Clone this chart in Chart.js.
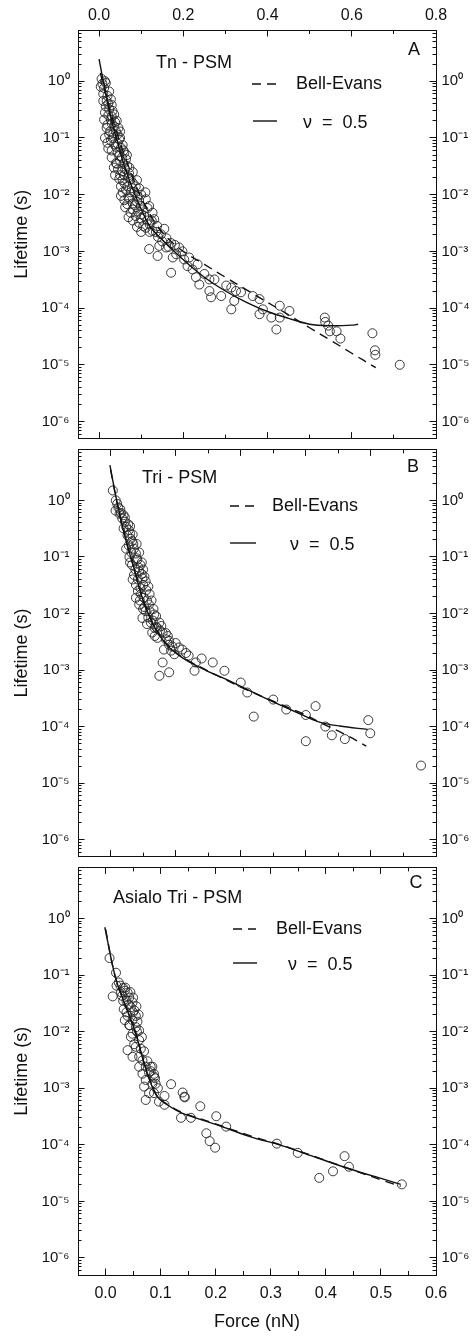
<!DOCTYPE html>
<html><head><meta charset="utf-8">
<script src="https://cdn.jsdelivr.net/npm/chart.js@4.4.1/dist/chart.umd.min.js"></script>
<style>
html,body{margin:0;padding:0;background:#fff;}
body{width:472px;height:1336px;position:relative;overflow:hidden;}
.p{position:absolute;left:0;width:472px;}
canvas{display:block;}
</style>
</head><body>
<div class="p" style="top:0;height:444px"><canvas id="cA" width="472" height="444"></canvas></div>
<div class="p" style="top:444px;height:418px"><canvas id="cB" width="472" height="418"></canvas></div>
<div class="p" style="top:862px;height:474px"><canvas id="cC" width="472" height="474"></canvas></div>
<script>
// ---------------- data ----------------
// Panel A : Tn - PSM
const aForce = [0.006,0.016,0.012,0.024,0.020,0.028,0.016,0.024,0.036,0.012,0.028,0.036,0.040,0.024,0.044,0.048,0.020,0.036,0.052,0.060,0.048,0.064,0.040,0.067,0.055,0.071,0.048,0.060,0.075,0.067,0.087,0.095,0.052,0.075,0.091,0.111,0.067,0.099,0.119,0.075,0.087,0.107,0.127,0.131,0.095,0.111,0.127,0.147,
 0.008,0.010,0.018,0.030,0.032,0.022,0.030,0.042,0.018,0.034,0.050,0.028,0.040,0.056,0.030,0.044,0.050,0.058,0.035,0.045,0.062,0.050,0.070,0.056,0.064,0.080,0.070,0.083,0.060,0.080,0.090,0.100,0.105,0.080,0.092,0.115,0.100,0.120,0.138,0.135,0.155,0.160,0.150,0.165,0.180,
 0.004,0.014,0.010,0.022,0.014,0.030,0.020,0.038,0.026,0.046,0.014,0.032,0.050,0.022,0.044,0.058,0.030,0.054,0.066,0.042,0.072,0.038,0.060,0.080,0.052,0.078,0.090,0.056,0.072,0.095,0.110,0.062,0.085,0.115,0.070,0.100,0.125,0.080,0.105,0.120,0.140,0.090,0.100,
 0.119,0.139,0.143,0.159,0.171,0.171,0.175,0.183,0.190,0.198,0.202,0.214,0.210,0.222,0.234,0.230,0.238,0.250,0.262,0.262,0.266,0.274,0.290,0.302,0.314,0.314,0.321,0.325,0.337,0.365,0.381,0.381,0.389,0.409,0.421,0.429,0.429,0.452,0.536,0.537,0.544,0.548,0.564,0.573,0.649,0.655,0.656,0.714];
const aLife = [1.1,0.93,0.76,0.66,0.55,0.48,0.36,0.32,0.26,0.21,0.21,0.16,0.13,0.115,0.115,0.094,0.082,0.077,0.067,0.055,0.048,0.042,0.036,0.032,0.026,0.024,0.019,0.016,0.019,0.014,0.014,0.013,0.0095,0.011,0.0095,0.0083,0.0068,0.0063,0.0063,0.0048,0.0042,0.0042,0.0048,0.0037,0.0032,0.0026,0.0023,0.0020,
 0.9,0.6,0.45,0.38,0.30,0.25,0.18,0.20,0.15,0.12,0.13,0.09,0.07,0.075,0.06,0.055,0.04,0.035,0.03,0.028,0.028,0.022,0.02,0.018,0.012,0.016,0.009,0.011,0.008,0.007,0.0075,0.01,0.0055,0.0055,0.005,0.0035,0.0038,0.003,0.0028,0.0022,0.0025,0.0017,0.0015,0.0012,0.0013,
 0.8,1.0,0.45,0.4,0.28,0.24,0.17,0.19,0.13,0.15,0.1,0.1,0.1,0.065,0.08,0.06,0.045,0.045,0.05,0.035,0.03,0.022,0.022,0.025,0.014,0.013,0.018,0.011,0.0085,0.008,0.011,0.006,0.0065,0.0058,0.004,0.0045,0.0035,0.0035,0.0028,0.0022,0.0018,0.0027,0.0022,
 0.0011,0.00083,0.00125,0.00117,0.0014,0.00042,0.00078,0.00089,0.00117,0.0010,0.00072,0.00078,0.00055,0.00048,0.00059,0.00035,0.00026,0.0004,0.00032,0.0002,0.000155,0.00032,0.000163,0.00025,0.00023,0.000095,0.000134,0.0002,0.00019,0.000163,0.000144,0.000078,0.000095,0.000068,0.000042,0.00011,0.000068,0.000089,0.000068,0.000057,0.000049,0.000039,0.000039,0.000029,0.000036,0.000018,0.000015,0.00001];
const aBellF = [0.003,0.02,0.04,0.06,0.08,0.10,0.13,0.16,0.20,0.25,0.30,0.35,0.40,0.45,0.50,0.55,0.60,0.657];
const aBellT = [1.4,0.45,0.14,0.05,0.02,0.0089,0.0035,0.0018,0.001,5.9e-4,3.5e-4,2.1e-4,1.26e-4,7.6e-5,4.5e-5,2.7e-5,1.6e-5,8.9e-6];
const aNuF = [0.0,0.01,0.02,0.03,0.045,0.06,0.08,0.10,0.12,0.15,0.20,0.25,0.30,0.35,0.40,0.45,0.50,0.55,0.60,0.615];
const aNuT = [2.45,1.0,0.45,0.2,0.08,0.032,0.0126,0.0056,0.0028,0.0016,7.1e-4,3.5e-4,2.0e-4,1.26e-4,8.7e-5,6.6e-5,5.2e-5,4.9e-5,5.0e-5,5.2e-5];

// Panel B : Tri - PSM
const bForce = [0.0035,0.0102,0.0077,0.0139,0.018,0.022,0.024,0.028,0.026,0.031,0.033,0.024,0.036,0.039,0.029,0.041,0.033,0.046,0.044,0.036,0.049,0.054,0.039,0.046,0.055,0.039,0.051,0.044,0.059,0.054,0.049,0.067,0.062,0.075,0.064,0.080,0.072,0.085,0.100,0.082,0.093,0.098,0.116,0.105,0.080,0.090,0.075,0.129,0.157,0.175,0.131,
 0.015,0.020,0.027,0.030,0.035,0.032,0.040,0.043,0.038,0.048,0.042,0.050,0.047,0.056,0.052,0.060,0.058,0.065,0.070,0.068,0.076,0.088,0.090,
 0.008,0.012,0.016,0.022,0.020,0.030,0.034,0.028,0.040,0.044,0.030,0.048,0.050,0.034,0.052,0.058,0.042,0.060,0.045,0.063,0.050,0.066,0.070,0.056,0.072,0.078,0.068,0.085,0.090,0.095,0.110,0.120,0.140,
 0.200,0.210,0.220,0.250,0.270,0.300,0.315,0.300,0.330,0.340,0.360,0.396,0.399,0.477];
const bLife = [1.5,0.87,0.66,0.58,0.48,0.42,0.34,0.30,0.24,0.21,0.19,0.14,0.14,0.115,0.10,0.089,0.072,0.072,0.055,0.048,0.042,0.037,0.032,0.028,0.026,0.019,0.019,0.0144,0.0144,0.011,0.0083,0.0096,0.0069,0.0069,0.0046,0.0046,0.0037,0.0035,0.003,0.0023,0.0022,0.0019,0.002,0.0025,0.00136,0.00091,0.00079,0.00097,0.00136,0.00097,0.00136,
 0.7,0.55,0.38,0.26,0.17,0.12,0.095,0.065,0.06,0.05,0.04,0.032,0.022,0.017,0.013,0.011,0.0085,0.0075,0.0058,0.0055,0.005,0.004,0.0028,
 1.0,0.75,0.6,0.5,0.32,0.35,0.25,0.16,0.17,0.12,0.08,0.08,0.06,0.04,0.045,0.03,0.025,0.022,0.017,0.017,0.012,0.012,0.009,0.0065,0.0055,0.006,0.004,0.0045,0.0033,0.0026,0.0023,0.0018,0.0016,
 0.0006,0.0004,0.00015,0.0003,0.0002,0.00016,0.00023,0.000055,0.0001,0.00007,0.00006,0.00013,0.000076,0.0000204];
const bBellF = [0.0,0.01,0.023,0.036,0.049,0.064,0.085,0.11,0.147,0.20,0.25,0.30,0.327,0.357,0.393];
const bBellT = [3.5,0.9,0.21,0.063,0.019,0.0072,0.003,0.0017,1.0e-3,5.0e-4,2.8e-4,1.6e-4,1.1e-4,7.6e-5,4.5e-5];
const bNuF = [-0.001,0.01,0.023,0.036,0.049,0.064,0.085,0.11,0.147,0.177,0.23,0.29,0.321,0.352,0.395];
const bNuT = [4.2,0.93,0.21,0.063,0.0186,0.0069,0.0029,0.00166,9.8e-4,6.9e-4,3.5e-4,1.7e-4,1.2e-4,1.02e-4,8.9e-5];

// Panel C : Asialo Tri - PSM
const cForce = [0.0073,0.019,0.013,0.024,0.027,0.032,0.035,0.040,0.030,0.043,0.038,0.049,0.033,0.046,0.052,0.040,0.055,0.035,0.049,0.058,0.043,0.055,0.061,0.049,0.046,0.061,0.040,0.055,0.064,0.049,0.061,0.067,0.061,0.073,0.085,0.067,0.079,0.088,0.073,0.085,0.070,0.079,0.088,0.107,0.073,0.097,0.107,0.119,0.140,0.144,0.172,0.137,0.155,0.201,0.183,0.219,
 0.020,0.028,0.036,0.045,0.050,0.032,0.042,0.056,0.038,0.050,0.060,0.044,0.057,0.066,0.052,0.070,0.076,0.082,0.090,0.095,
 0.082,0.088,0.091,0.143,0.189,0.199,0.311,0.349,0.388,0.413,0.434,0.442,0.538];
const cLife = [0.2,0.11,0.042,0.074,0.065,0.059,0.053,0.049,0.043,0.04,0.035,0.033,0.025,0.027,0.024,0.019,0.019,0.016,0.016,0.015,0.013,0.012,0.0105,0.0092,0.0081,0.0071,0.0047,0.0054,0.005,0.0036,0.0036,0.0031,0.0024,0.0024,0.0024,0.0018,0.0019,0.0018,0.0014,0.0012,0.00107,0.00082,0.00082,0.00073,0.00062,0.00058,0.00051,0.00118,0.00084,0.00069,0.00048,0.0003,0.0003,0.00032,0.00016,0.00021,
 0.065,0.05,0.06,0.05,0.04,0.035,0.03,0.028,0.022,0.022,0.02,0.013,0.01,0.008,0.006,0.0045,0.003,0.002,0.0015,0.001,
 0.0024,0.0016,0.0012,0.00071,0.000116,0.000089,0.000105,0.000072,0.000026,0.000034,0.000063,0.000041,0.00002];
const cBellF = [0.0,0.018,0.04,0.055,0.067,0.079,0.094,0.116,0.14,0.20,0.262,0.323,0.384,0.445,0.506,0.536];
const cBellT = [0.65,0.09,0.023,0.0091,0.0035,0.0015,7.3e-4,4.9e-4,3.7e-4,2.35e-4,1.45e-4,9.6e-5,6.0e-5,3.7e-5,2.3e-5,1.85e-5];
const cNuF = [-0.0013,0.018,0.04,0.055,0.067,0.079,0.094,0.116,0.14,0.20,0.262,0.323,0.384,0.445,0.506,0.536];
const cNuT = [0.7,0.091,0.023,0.0091,0.0035,0.0015,7.1e-4,4.8e-4,3.6e-4,2.3e-4,1.4e-4,9.5e-5,5.9e-5,3.7e-5,2.45e-5,2.0e-5];

// ---------------- ticks ----------------
const yMin = 5e-7, yMax = 8;
const yDecades = [1e-6,1e-5,1e-4,1e-3,1e-2,1e-1,1];
const yMinor = [];
for (let e = -7; e <= 0; e++) for (let m = 2; m <= 9; m++) { const v = m * Math.pow(10, e); if (v >= yMin && v <= yMax) yMinor.push(v); }
const aXMajor = [0,0.2,0.4,0.6,0.8], aXMinor = [0.1,0.3,0.5,0.7];
const bXMajor = [0,0.1,0.2,0.3,0.4,0.5], bXMinor = [0.05,0.15,0.25,0.35,0.45];
const cXMajor = [0,0.1,0.2,0.3,0.4,0.5,0.6], cXMinor = [0.05,0.15,0.25,0.35,0.45,0.55];

const FONT = '"Liberation Sans", Arial, Helvetica, sans-serif';
const SUP = {'-':'\u207B','0':'\u2070','1':'\u00B9','2':'\u00B2','3':'\u00B3','4':'\u2074','5':'\u2075','6':'\u2076','7':'\u2077','8':'\u2078','9':'\u2079'};
function powLabel(v){ const e = String(Math.round(Math.log10(v))); return '10' + e.split('').map(c=>SUP[c]).join(''); }

function pts(xs, ys){ return xs.map((x,i)=>({x:x, y:ys[i]})); }

function scale(o){
  const horiz = (o.position === 'top' || o.position === 'bottom');
  return {
    type: o.type, position: o.position, min: o.min, max: o.max, bounds: 'data', weight: o.weight,
    afterBuildTicks: s => { s.ticks = o.ticks.map(v => ({value: v})); },
    afterFit: s => { if (horiz) s.height = o.size; else s.width = o.size; s.paddingTop = 0; s.paddingBottom = 0; s.paddingLeft = 0; s.paddingRight = 0; },
    grid: {display: true, drawOnChartArea: false, drawTicks: true, tickLength: -o.len, tickColor: '#111', tickWidth: 1},
    border: {display: !!o.border, color: '#111', width: 1},
    ticks: {display: !!o.labels, autoSkip: false, maxRotation: 0, minRotation: 0, padding: o.pad || 0, color: '#111',
            font: {family: FONT, size: o.fs || 16}, callback: o.labels || (() => '')},
    title: o.title ? {display: true, text: o.title, color: '#111', font: {family: FONT, size: 18}, padding: o.titlePad} : {display: false}
  };
}

const annot = {
  id: 'annot',
  afterDatasetsDraw(chart, args, o) {
    const ctx = chart.ctx, d = o.dy;
    ctx.save();
    ctx.fillStyle = '#111'; ctx.strokeStyle = '#111';
    ctx.font = '18px ' + FONT; ctx.textBaseline = 'middle'; ctx.textAlign = 'left';
    ctx.fillText(o.title, o.tx, o.ty - d);
    ctx.textAlign = 'center';
    ctx.fillText(o.letter, o.lx, o.ly - d);
    ctx.textAlign = 'left';
    ctx.lineWidth = 1.4;
    ctx.setLineDash([9,6]);
    ctx.beginPath(); ctx.moveTo(o.dash[0], o.dash[2] - d); ctx.lineTo(o.dash[1], o.dash[2] - d); ctx.stroke();
    ctx.setLineDash([]);
    ctx.beginPath(); ctx.moveTo(o.solid[0], o.solid[2] - d); ctx.lineTo(o.solid[1], o.solid[2] - d); ctx.stroke();
    ctx.fillText('Bell-Evans', o.be[0], o.be[1] - d);
    ctx.fillText('\u03BD  =  0.5', o.nu[0], o.nu[1] - d);
    ctx.restore();
  }
};

function makePanel(id, P){
  const scales = {
    x:    scale({type:'linear', position:'bottom', min:P.xmin, max:P.xmax, ticks:P.xMaj, len:6.5, weight:10, size:P.bottomSize, border:true,
                 labels:P.bottomLabels ? (v => Number(v).toFixed(1)) : null, pad:15, title:P.xTitle, titlePad:{top:0,bottom:3}}),
    xm:   scale({type:'linear', position:'bottom', min:P.xmin, max:P.xmax, ticks:P.xMin, len:4, weight:0, size:0}),
    xt:   scale({type:'linear', position:'top', min:P.xmin, max:P.xmax, ticks:P.xMaj, len:6.5, weight:10, size:P.topSize, border:true,
                 labels:P.topLabels ? (v => Number(v).toFixed(1)) : null, pad:11}),
    xtm:  scale({type:'linear', position:'top', min:P.xmin, max:P.xmax, ticks:P.xMin, len:4, weight:0, size:0}),
    y:    scale({type:'logarithmic', position:'left', min:yMin, max:yMax, ticks:yDecades, len:6.5, weight:10, size:78, border:true,
                 labels:powLabel, pad:15, fs:15, title:'Lifetime (s)', titlePad:{top:11,bottom:0}}),
    ym:   scale({type:'logarithmic', position:'left', min:yMin, max:yMax, ticks:yMinor, len:3.5, weight:0, size:0}),
    yr:   scale({type:'logarithmic', position:'right', min:yMin, max:yMax, ticks:yDecades, len:6.5, weight:10, size:36, border:true,
                 labels:powLabel, pad:12, fs:15}),
    yrm:  scale({type:'logarithmic', position:'right', min:yMin, max:yMax, ticks:yMinor, len:3.5, weight:0, size:0})
  };
  return new Chart(document.getElementById(id), {
    type: 'scatter',
    data: { datasets: [
      {label:'\u03BD = 0.5', data: pts(P.nuF, P.nuT), showLine:true, borderColor:'#111', borderWidth:1.4, pointRadius:0, fill:false, xAxisID:'x', yAxisID:'y', tension:0.35, order:0},
      {label:'Bell-Evans', data: pts(P.beF, P.beT), showLine:true, borderColor:'#111', borderWidth:1.4, borderDash:[9,6], pointRadius:0, fill:false, xAxisID:'x', yAxisID:'y', tension:0.35, order:1},
      {label:'data', data: pts(P.F, P.T), showLine:false, pointRadius:4.5, pointBorderWidth:0.9, pointBorderColor:'#262626', pointBackgroundColor:'rgba(0,0,0,0)', xAxisID:'x', yAxisID:'y', order:2}
    ]},
    options: {
      responsive:false, maintainAspectRatio:false, animation:false, devicePixelRatio:1, events:[],
      layout:{padding:0},
      plugins:{legend:{display:false}, tooltip:{enabled:false}, annot:P.annot},
      scales: scales
    },
    plugins:[annot]
  });
}

makePanel('cA', {xmin:-0.05, xmax:0.8, xMaj:aXMajor, xMin:aXMinor, topSize:30, bottomSize:4, topLabels:true, bottomLabels:false,
  F:aForce, T:aLife, beF:aBellF, beT:aBellT, nuF:aNuF, nuT:aNuT,
  annot:{dy:0, title:'Tn - PSM', tx:156, ty:63, letter:'A', lx:414, ly:50, dash:[252,277,84], be:[296,84], solid:[253,277,121], nu:[303,123]}});
makePanel('cB', {xmin:-0.05, xmax:0.5, xMaj:bXMajor, xMin:bXMinor, topSize:4, bottomSize:5, topLabels:false, bottomLabels:false,
  F:bForce, T:bLife, beF:bBellF, beT:bBellT, nuF:bNuF, nuT:bNuT,
  annot:{dy:444, title:'Tri - PSM', tx:142, ty:478, letter:'B', lx:413, ly:467, dash:[230,255,506], be:[272,506], solid:[230,256,543], nu:[290,545]}});
makePanel('cC', {xmin:-0.05, xmax:0.6, xMaj:cXMajor, xMin:cXMinor, topSize:4, bottomSize:61, topLabels:false, bottomLabels:true, xTitle:'Force (nN)',
  F:cForce, T:cLife, beF:cBellF, beT:cBellT, nuF:cNuF, nuT:cNuT,
  annot:{dy:862, title:'Asialo Tri - PSM', tx:113, ty:898, letter:'C', lx:416, ly:883, dash:[233,256,929], be:[276,929], solid:[233,257,963], nu:[288,965]}});
</script>
</body></html>
